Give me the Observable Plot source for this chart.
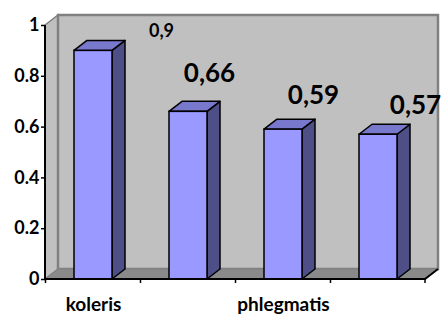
<!DOCTYPE html>
<html>
<head>
<meta charset="utf-8">
<script src="https://cdn.jsdelivr.net/npm/d3@7"></script>
<script src="https://cdn.jsdelivr.net/npm/@observablehq/plot@0.6"></script>
<style>
  html, body { margin: 0; padding: 0; background: white; overflow: hidden; }
</style>
</head>
<body>
<div id="chart"></div>
<script>
// ---- data ----
const categories = ["koleris", "sanguinis", "phlegmatis", "melankolis"];
const values = [0.9, 0.66, 0.59, 0.57];
const valueLabels = ["0,9", "0,66", "0,59", "0,57"];
const xTickLabels = ["koleris", "phlegmatis"];
const yTicks = [0, 0.2, 0.4, 0.6, 0.8, 1];

const data = categories.map((c, i) => ({cat: c, value: values[i], label: valueLabels[i]}));

// ---- style ----
const DX = 13, DY = -10; // 3D depth offset (pixels)
const FRONT = "#9999FF", SIDE = "#4F4F88", TOP = "#7878CC";
const WALL = "#C0C0C0", FLOOR = "#8A8A8A", EDGE = "#808080";

function pts(a) { return a.map(p => p.join(",")).join(" "); }

// back wall, side wall and floor
function walls(index, scales, values, dims) {
  const {y} = scales;
  const x0 = dims.marginLeft, x1 = dims.width - dims.marginRight;
  const yb = y(0), yt = y(1);
  const g = d3.create("svg:g");
  g.append("polygon").attr("points", pts([[x0, yt], [x0 + DX, yt + DY], [x0 + DX, yb + DY], [x0, yb]]))
    .attr("fill", WALL).attr("stroke", EDGE).attr("stroke-width", 1.5);
  g.append("rect").attr("x", x0 + DX).attr("y", yt + DY).attr("width", x1 - x0).attr("height", yb - yt)
    .attr("fill", WALL).attr("stroke", EDGE).attr("stroke-width", 2.5);
  g.append("polygon").attr("points", pts([[x0, yb], [x0 + DX, yb + DY], [x1 + DX, yb + DY], [x1, yb]]))
    .attr("fill", FLOOR).attr("stroke", EDGE).attr("stroke-width", 1);
  return g.node();
}

// side and top faces of the bars
function barFaces(index, scales, vals, dims) {
  const {x, y} = scales;
  const w = x.bandwidth();
  const g = d3.create("svg:g").attr("stroke", "black").attr("stroke-width", 1.5).attr("stroke-linejoin", "round");
  data.forEach(d => {
    const xl = x(d.cat), xr = xl + w, yv = y(d.value), yb = y(0);
    g.append("polygon").attr("points", pts([[xr, yb], [xr, yv], [xr + DX, yv + DY], [xr + DX, yb + DY]])).attr("fill", SIDE);
    g.append("polygon").attr("points", pts([[xl, yv], [xl + DX, yv + DY], [xr + DX, yv + DY], [xr, yv]])).attr("fill", TOP);
  });
  return g.node();
}

// axis lines and category boundary ticks
function axes(index, scales, vals, dims) {
  const {x, y} = scales;
  const x0 = dims.marginLeft, x1 = dims.width - dims.marginRight;
  const yb = y(0), yt = y(1);
  const half = (x.step() - x.bandwidth()) / 2;
  const g = d3.create("svg:g").attr("stroke", "black").attr("fill", "none");
  g.append("path").attr("stroke-width", 2).attr("d", `M${x0},${yt}V${yb}H${x1}L${x1 + DX},${yb + DY}`);
  const bounds = categories.map(c => x(c) - half).concat([x1]);
  bounds.forEach(bx => g.append("line").attr("x1", bx).attr("x2", bx).attr("y1", yb).attr("y2", yb + 4).attr("stroke-width", 1.5));
  return g.node();
}

function valueLabel(i, dx, dy, size) {
  return Plot.text([data[i]], {
    x: "cat", y: "value", text: "label", dx, dy,
    fontSize: size, fontWeight: "bold", fill: "black",
    textAnchor: "middle", lineAnchor: "bottom"
  });
}

const chart = Plot.plot({
  width: 443,
  height: 314,
  marginLeft: 45,
  marginRight: 18,
  marginTop: 25,
  marginBottom: 35,
  style: {fontFamily: "Lato", background: "white", color: "black"},
  x: {domain: categories, paddingInner: 0.6, paddingOuter: 0.3},
  y: {domain: [0, 1]},
  marks: [
    walls,
    barFaces,
    Plot.barY(data, {x: "cat", y: "value", fill: FRONT, stroke: "black", strokeWidth: 1.5}),
    axes,
    Plot.axisY({ticks: yTicks, tickFormat: d => String(d), tickSize: 4, tickPadding: 2,
      fontSize: 18, fontWeight: "bold", stroke: "black", strokeWidth: 1.5, label: null}),
    Plot.axisX({ticks: xTickLabels, tickSize: 0, tickPadding: 18,
      fontSize: 19, fontWeight: "bold", label: null}),
    valueLabel(0, 68, -14, 18),
    valueLabel(1, 21, -30, 26),
    valueLabel(2, 30, -26, 26),
    valueLabel(3, 37, -21, 26)
  ]
});
document.getElementById("chart").appendChild(chart);
</script>
</body>
</html>
